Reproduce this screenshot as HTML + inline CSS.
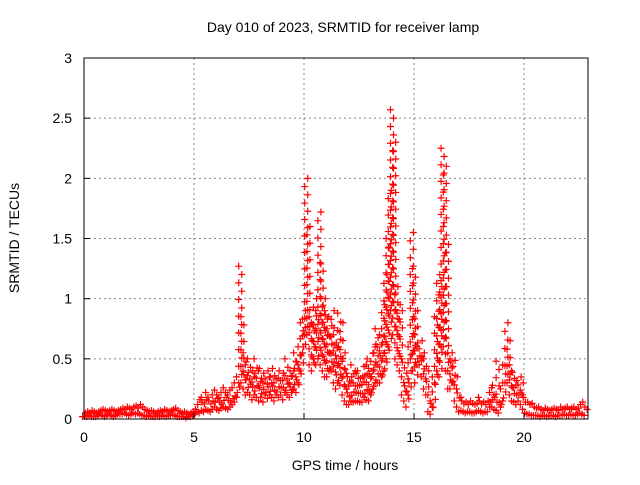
<!DOCTYPE html>
<html><head><meta charset="utf-8"><style>
body{margin:0;background:#fff}
svg text{font-family:"Liberation Sans",sans-serif;font-size:14px;fill:#000}
</style></head><body>
<svg id="c" width="640" height="480">
<rect x="0" y="0" width="640" height="480" fill="#fff"/>
<text x="343" y="32" text-anchor="middle">Day 010 of 2023, SRMTID for receiver lamp</text>
<text x="345" y="470" text-anchor="middle">GPS time / hours</text>
<text transform="translate(19,238) rotate(-90)" text-anchor="middle">SRMTID / TECUs</text>
<g id="grid"></g><g id="marks"></g>
<rect x="84" y="58" width="504" height="361" fill="none" stroke="#000"/>
<g id="ticks"></g>
</svg>
<script>
const xTicks=[0,5,10,15,20];
const yTicks=[0,0.5,1,1.5,2,2.5,3];
const yTickLabels=["0","0.5","1","1.5","2","2.5","3"];
const tStart=0, tStep=0.1;
const vals=[0.05,0.06,0.05,0.07,0.06,0.05,0.06,0.07,0.08,0.07,0.06,0.07,0.08,0.07,0.06,0.07,0.08,0.09,0.08,0.1,0.09,0.08,0.1,0.11,0.09,0.12,0.1,0.08,0.07,0.06,0.07,0.06,0.05,0.06,0.07,0.06,0.08,0.07,0.06,0.07,0.08,0.09,0.07,0.06,0.05,0.06,0.05,0.04,0.05,0.06,
0.08,0.12,0.16,0.14,0.18,0.16,0.22,0.18,0.15,0.2,0.24,0.2,0.18,0.22,0.26,0.22,0.2,0.24,0.26,0.3,
0.35,1.27,0.85,0.55,0.45,0.5,0.4,0.38,0.5,0.42,
0.4,0.38,0.3,0.4,0.35,0.42,0.36,0.3,0.4,0.34,0.38,0.32,0.5,0.4,0.36,0.42,0.55,0.48,0.6,0.8,
0.9,2.0,1.6,0.85,0.8,1.0,0.9,1.72,1.3,1.0,
0.9,0.75,0.85,0.9,0.7,0.6,0.88,0.8,0.55,0.42,
0.38,0.35,0.45,0.38,0.4,0.4,0.35,0.36,0.5,0.45,0.42,0.55,
0.62,0.75,0.6,0.7,0.95,1.2,1.5,1.9,2.57,2.3,
1.1,0.95,0.9,0.5,0.38,0.3,0.6,1.55,1.25,0.9,
0.6,0.65,0.55,0.5,0.4,0.2,0.15,0.35,0.85,1.2,
1.1,2.25,2.1,1.45,0.55,0.5,0.55,0.35,0.25,0.15,
0.18,0.14,0.12,0.15,0.13,0.12,0.13,0.15,0.18,0.14,
0.12,0.15,0.14,0.28,0.26,0.2,0.48,0.12,0.25,0.45,
0.8,0.65,0.45,0.4,0.32,0.28,0.35,0.3,0.2,0.14,
0.12,0.13,0.1,0.09,0.1,0.08,0.07,0.09,0.08,0.07,
0.08,0.09,0.08,0.07,0.1,0.08,0.09,0.1,0.08,0.09,
0.1,0.08,0.09,0.12,0.14,0.1,0.08];
const vals2=[0.02,0.02,0.02,0.03,0.02,0.02,0.02,0.03,0.04,0.03,0.02,0.03,0.04,0.03,0.02,0.03,0.04,0.04,0.04,0.05,0.04,0.03,0.04,0.05,0.04,0.05,0.04,0.03,0.03,0.02,0.03,0.02,0.02,0.02,0.03,0.02,0.03,0.03,0.02,0.03,0.03,0.04,0.03,0.02,0.02,0.02,0.02,0.01,0.02,0.02,
0.03,0.04,0.06,0.05,0.07,0.06,0.08,0.07,0.06,0.08,0.1,0.08,0.07,0.09,0.1,0.09,0.08,0.1,0.12,0.14,
0.18,0.3,0.3,0.25,0.2,0.22,0.2,0.16,0.2,0.18,
0.15,0.18,0.14,0.2,0.17,0.2,0.18,0.15,0.2,0.18,0.2,0.16,0.22,0.2,0.18,0.22,0.25,0.22,0.3,0.4,
0.55,0.7,0.7,0.45,0.4,0.5,0.45,0.5,0.45,0.4,
0.35,0.35,0.4,0.4,0.3,0.25,0.3,0.28,0.2,0.15,
0.12,0.12,0.15,0.14,0.15,0.15,0.14,0.14,0.18,0.16,0.15,0.2,
0.25,0.3,0.3,0.3,0.35,0.4,0.5,0.6,0.9,0.7,
0.5,0.45,0.4,0.2,0.15,0.1,0.2,0.5,0.4,0.3,
0.45,0.45,0.35,0.25,0.2,0.06,0.04,0.1,0.3,0.4,
0.35,0.6,0.6,0.4,0.25,0.25,0.3,0.15,0.1,0.06,
0.07,0.06,0.05,0.06,0.06,0.05,0.05,0.06,0.07,0.06,
0.05,0.06,0.06,0.1,0.1,0.08,0.07,0.05,0.1,0.15,
0.3,0.3,0.2,0.15,0.14,0.12,0.15,0.12,0.08,0.05,
0.04,0.04,0.03,0.03,0.03,0.03,0.02,0.03,0.03,0.02,
0.03,0.03,0.03,0.02,0.03,0.03,0.03,0.04,0.03,0.03,
0.04,0.03,0.03,0.04,0.05,0.04,0.03];
const X=t=>84+t*22, Y=v=>419-v*120.33;
const NS="http://www.w3.org/2000/svg";
const grid=document.getElementById('grid'),ticks=document.getElementById('ticks'),marks=document.getElementById('marks');
function mk(tag,at,p){const e=document.createElementNS(NS,tag);for(const k in at)e.setAttribute(k,at[k]);p.appendChild(e);return e;}
xTicks.forEach(t=>{
 if(t>0){const g=mk('line',{x1:X(t),x2:X(t),y1:58,y2:419,stroke:'#888','stroke-dasharray':'2,3'},grid);
 
 }
 const l=mk('line',{x1:X(t),x2:X(t),y1:419,y2:413,stroke:'#000'},ticks);
 
 
 const tx=mk('text',{x:X(t),y:442,'text-anchor':'middle'},ticks);tx.textContent=t;
 
 
});
yTicks.forEach((v,i)=>{
 if(v>0&&v<3){const g=mk('line',{x1:84,x2:588,y1:Y(v),y2:Y(v),stroke:'#888','stroke-dasharray':'2,3'},grid);
 
 }
 const l=mk('line',{x1:84,x2:90,y1:Y(v),y2:Y(v),stroke:'#000'},ticks);
 
 
 const tx=mk('text',{x:72,y:Y(v)+5,'text-anchor':'end'},ticks);tx.textContent=yTickLabels[i];
 
 
});
function plus(x,y,c){const p=mk('path',{d:`M${x-3.5},${y}h7M${x},${y-3.5}v7`,stroke:c,'stroke-width':1.2,fill:'none'},marks);
 
 }
vals.forEach((v,i)=>{
 const t=tStart+i*tStep, lo=vals2[i];
 const n=Math.max(1,Math.round((v-lo)/0.07));
 for(let k=0;k<=n;k++){const vv=lo+(v-lo)*k/n; plus(X(t)+(k%2?1.5:-1.5),Y(vv),'#f00');}
});
</script>
</body></html>
